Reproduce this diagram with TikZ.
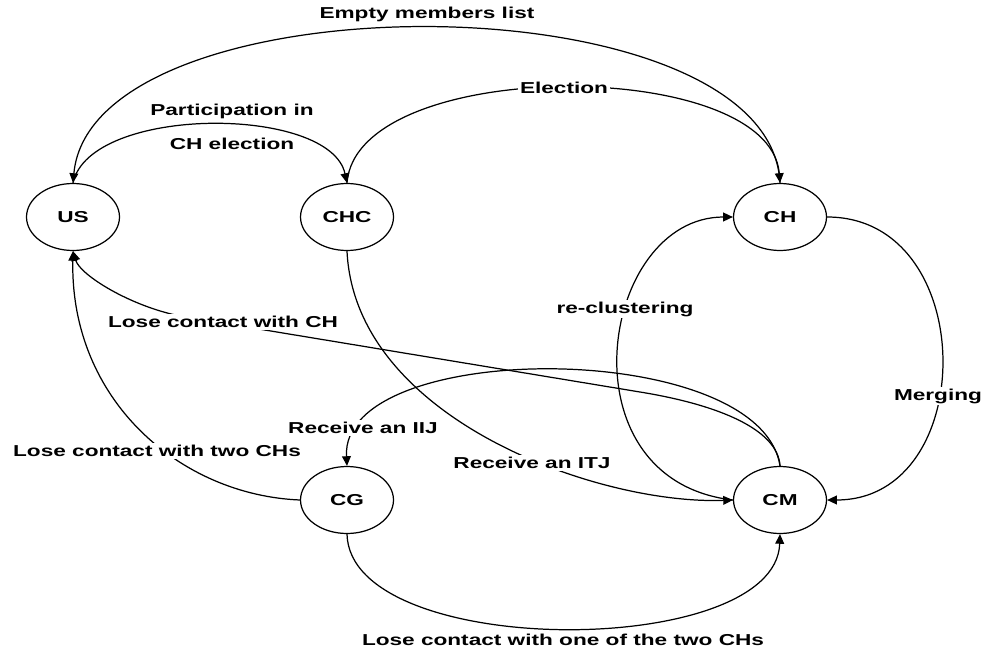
\documentclass[tikz,border=0pt]{standalone}
\usepackage{fontspec}
\newfontfamily\lblfont[FakeStretch=1.43]{Liberation Sans}
\usetikzlibrary{shapes.geometric,arrows.meta}

\begin{document}
\begin{tikzpicture}[x=0.02cm,y=-0.02cm,line width=0.7pt,
  >={Triangle[length=5.5pt,width=5pt]},
  every node/.style={font=\lblfont\bfseries\fontsize{9}{11}\selectfont},
  state/.style={ellipse,draw,minimum width=1.86cm,minimum height=1.34cm,inner sep=0pt},
  lbl/.style={fill=white,inner sep=1pt}]
\useasboundingbox (0,0) rectangle (984,652);
\node[state] (us)  at (73,217)  {US};
\node[state] (chc) at (347,217) {CHC};
\node[state] (ch)  at (780,217) {CH};
\node[state] (cg)  at (347,500) {CG};
\node[state] (cm)  at (780,500) {CM};

\draw[->] (ch.north) .. controls (770,-24) and (92,-24) .. (us.north);
\draw[->] (us.north) .. controls (90,105) and (330,105) .. (chc.north);
\draw[->] (chc.north) .. controls (357,56) and (770,56) .. (ch.north);
\draw[->] (ch.east) .. controls (980,217) and (980,500) .. (cm.east);
\draw[->] (cm.west) .. controls (560,480) and (600,217) .. (ch.west);
\draw[->] (cm.north) .. controls (778,430) and (720,405) .. (640,392)
  -- (180,316) .. controls (130,306) and (80,275) .. (us.south);
\draw[->] (cm.north) .. controls (760,338) and (340,338) .. (cg.north);
\draw[->] (chc.south) .. controls (355,420) and (600,505) .. (cm.west);
\draw[->] (cg.west) .. controls (180,495) and (70,400) .. (us.south);
\draw[->] (cg.south) .. controls (350,660) and (776,660) .. (cm.south);

\node (emptylbl) at (427,14) {Empty members list};
\node[align=center] (partlbl) at (232,127) {Participation in\\[8pt]CH election};
\node[lbl] (electlbl) at (564,88) {Election};
\node[lbl] (mergelbl) at (938,396) {Merging};
\node[lbl] (reclbl) at (625,309) {re-clustering};
\node[lbl] (lchlbl) at (223,322) {Lose contact with CH};
\node[lbl] (iijlbl) at (363,428) {Receive an IIJ};
\node[lbl] (itjlbl) at (532,463) {Receive an ITJ};
\node[lbl] (ltwolbl) at (157,451) {Lose contact with two CHs};
\node (lonelbl) at (563,640) {Lose contact with one of the two CHs};
\end{tikzpicture}
\end{document}
